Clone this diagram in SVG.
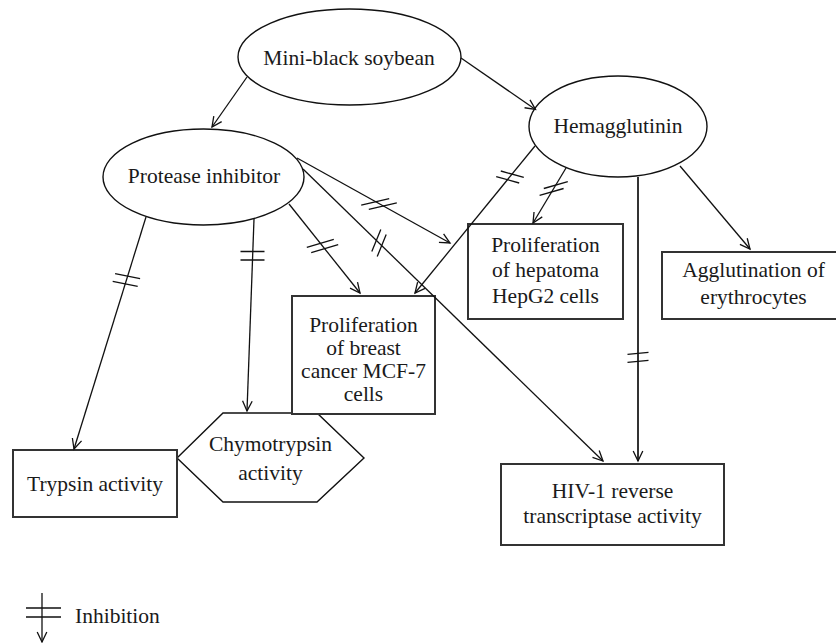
<svg xmlns="http://www.w3.org/2000/svg" width="836" height="643" viewBox="0 0 836 643">
<defs>
<marker id="arr" markerUnits="userSpaceOnUse" markerWidth="14" markerHeight="14" viewBox="-12 -7 14 14" refX="0" refY="0" orient="auto">
<path d="M-10,-4.8 L0,0 L-10,4.8" fill="none" stroke="#111" stroke-width="1.3"/>
</marker>
</defs>
<style>
.node{fill:#fff;stroke:#111;stroke-width:1.4}
.box{fill:#fff;stroke:#333;stroke-width:2}
.t{font-family:"Liberation Serif","Times New Roman",serif;font-size:21.5px;fill:#1a1a1a;text-anchor:middle}
.e{fill:none;stroke:#111;stroke-width:1.3;marker-end:url(#arr)}
.eg{fill:none;stroke:#333;stroke-width:2;marker-end:url(#arr)}
.m{fill:none;stroke:#111;stroke-width:1.3}
</style>
<rect width="836" height="643" fill="#fff"/>

<g id="n-soybean">
<ellipse class="node" cx="349.5" cy="57" rx="111.5" ry="48"/>
<text class="t" x="349" y="65">Mini-black soybean</text>
</g>
<g id="n-protease">
<ellipse class="node" cx="203.5" cy="177" rx="100.5" ry="48"/>
<text class="t" x="204" y="183">Protease inhibitor</text>
</g>
<g id="n-hemagglutinin">
<ellipse class="node" cx="618" cy="126.5" rx="89" ry="50.5"/>
<text class="t" x="618" y="133">Hemagglutinin</text>
</g>
<g id="n-hepg2">
<rect class="box" x="468" y="224" width="155" height="95"/>
<text class="t" x="545.5" y="252">Proliferation</text>
<text class="t" x="545.5" y="277">of hepatoma</text>
<text class="t" x="545.5" y="303">HepG2 cells</text>
</g>
<g id="n-agglutination">
<rect class="box" x="662" y="252" width="178" height="67"/>
<text class="t" x="753.5" y="277">Agglutination of</text>
<text class="t" x="753.5" y="304">erythrocytes</text>
</g>
<g id="n-chymotrypsin">
<polygon class="node" points="177,458 223,413 317,413 364,458 317,502 223,502"/>
<text class="t" x="270.5" y="451">Chymotrypsin</text>
<text class="t" x="270.5" y="480">activity</text>
</g>
<g id="n-mcf7">
<rect class="box" x="292" y="296" width="143" height="118"/>
<text class="t" x="363.5" y="332">Proliferation</text>
<text class="t" x="363.5" y="355">of breast</text>
<text class="t" x="363.5" y="378">cancer MCF-7</text>
<text class="t" x="363.5" y="401">cells</text>
</g>
<g id="n-trypsin">
<rect class="box" x="13" y="450" width="164" height="67"/>
<text class="t" x="95" y="491">Trypsin activity</text>
</g>
<g id="n-hiv">
<rect class="box" x="501" y="464" width="223" height="81"/>
<text class="t" x="612.5" y="498">HIV-1 reverse</text>
<text class="t" x="612.5" y="523">transcriptase activity</text>
</g>

<g id="connectors">
<line class="e" x1="247" y1="77" x2="212" y2="127"/>
<line class="e" x1="461" y1="58" x2="535.5" y2="109.5"/>
<line class="e" x1="146" y1="217" x2="74" y2="449"/>
<line class="e" x1="254" y1="219" x2="247" y2="411"/>
<line class="e" x1="289" y1="204" x2="360" y2="293"/>
<line class="e" x1="303" y1="169" x2="603" y2="461"/>
<line class="e" x1="297" y1="158" x2="450" y2="243"/>
<line class="e" x1="535" y1="146" x2="415" y2="293"/>
<line class="e" x1="566" y1="168" x2="533" y2="223"/>
<line class="eg" x1="638" y1="177" x2="638" y2="461"/>
<line class="e" x1="680" y1="166" x2="750" y2="249"/>
<!-- inhibition marks -->
<path class="m" d="M115.1,273.7 L140.1,278.7 M112.7,281.3 L137.7,286.3"/>
<path class="m" d="M240.5,251.5 L264.5,251.5 M240.5,260 L264.5,260"/>
<path class="m" d="M306.8,247.3 L333.8,239.3 M311.2,252.7 L338.2,244.7"/>
<path class="m" d="M371.8,251.4 L380.8,229.4 M377.2,256.6 L386.2,234.6"/>
<path class="m" d="M361.2,205.2 L389.2,198.6 M368.8,209.4 L396.8,202.8"/>
<path class="m" d="M500.8,171 L523.8,177.4 M496.2,176.6 L519.2,183"/>
<path class="m" d="M543.8,188.5 L567.8,181.7 M539.6,195.3 L563.6,188.5"/>
<path class="m" d="M627.5,354.3 L648.5,352.3 M627.5,362.3 L648.5,360.3"/>
</g>

<g id="legend">
<line class="e" x1="42" y1="593" x2="42" y2="642"/>
<path class="m" d="M26,608 L61,608 M26,617 L61,617"/>
<text class="t" x="75" y="623" style="text-anchor:start">Inhibition</text>
</g>
</svg>
